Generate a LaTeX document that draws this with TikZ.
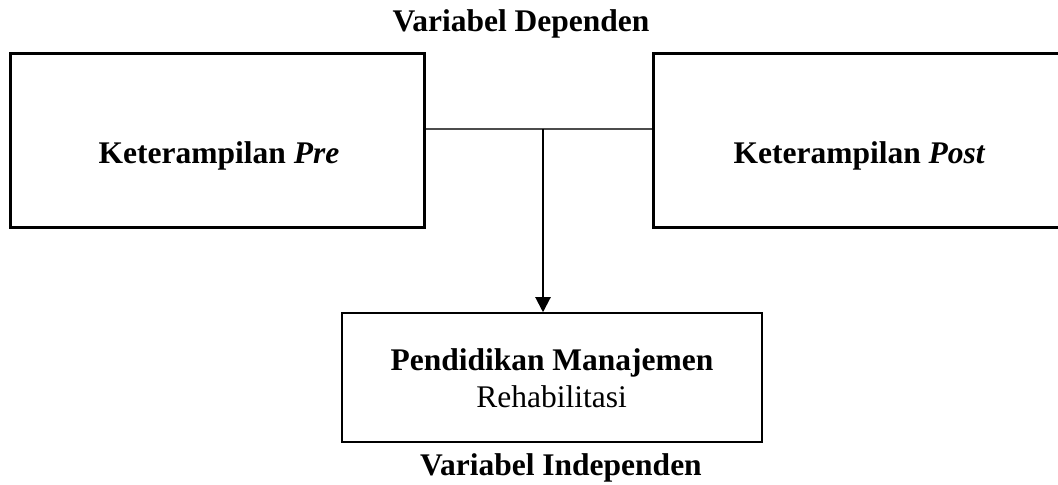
\documentclass[tikz,border=0pt]{standalone}
\usepackage{fontspec}
\setmainfont{Liberation Serif}
\usetikzlibrary{arrows.meta}

\begin{document}
\begin{tikzpicture}[x=0.4pt, y=-0.4pt,
        font=\fontsize{12.6}{15}\selectfont,
        varbox/.style={draw, line width=1.2pt, inner sep=0pt},
        indbox/.style={draw, line width=0.6pt, inner sep=0pt},
        lbl/.style={anchor=base, inner sep=0pt}]
        \useasboundingbox (0, 0) rectangle (1058, 485);
        \clip (0, 0) rectangle (1058, 485);
        % boxes
        \node[varbox, minimum width=165.2pt, minimum height=69.2pt] at(217.5, 140.5) (pre) {};
        \node[varbox, minimum width=166.8pt, minimum height=69.2pt] at(861.5, 140.5) (post) {};
        \node[indbox, minimum width=168pt, minimum height=51.6pt] at(552, 377.5) (pend) {};
        % texts
        \node[lbl] at(521, 32) (dep) {\textbf{Variabel Dependen}};
        \node[lbl] at(219, 164) (pretxt) {\textbf{Keterampilan \textit{Pre}}};
        \node[lbl] at(859.5, 164) (posttxt) {\textbf{Keterampilan \textit{Post}}};
        \node[lbl] at(552, 370) (pendtxt) {\textbf{Pendidikan Manajemen}};
        \node[lbl] at(551.5, 407) (rehab) {Rehabilitasi};
        \node[lbl] at(561, 475) (ind) {\textbf{Variabel Independen}};
        % connectors
        \coordinate (j) at(543, 129);
        \draw[line width=0.8pt, black!70] (pre.east |- j) -- (post.west |- j);
        \draw[-{Triangle[length=6pt, width=6pt]}, line width=0.8pt] (j) -- (j |- pend.north);
    \end{tikzpicture}
\end{document}
